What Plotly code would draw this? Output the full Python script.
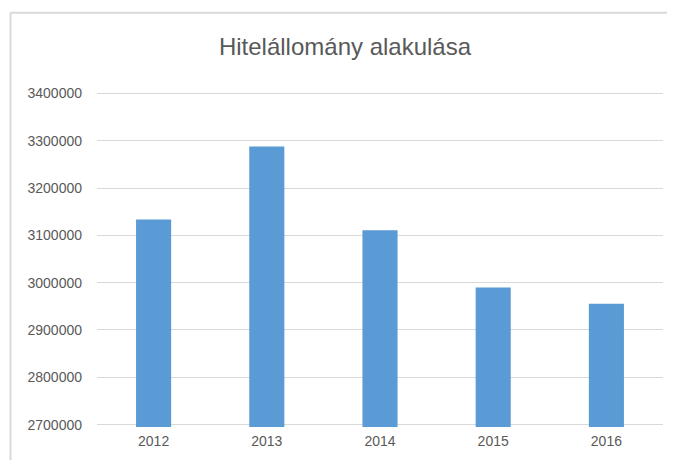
import plotly.graph_objects as go

years = ["2012", "2013", "2014", "2015", "2016"]
values = [3133700, 3287500, 3110500, 2990000, 2955700]
tick_vals = [2700000, 2800000, 2900000, 3000000, 3100000, 3200000, 3300000, 3400000]
tick_text = [str(v) for v in tick_vals]
title = "Hitelállomány alakulása"

font_family = "Liberation Sans"
W, H = 659, 452
L, R, T, B = 89, 4, 83, 33
PW, PH = W - L - R, H - T - B

fig = go.Figure(go.Bar(x=years, y=values, marker=dict(color="#5b9bd5", line=dict(width=0)), width=0.31))

fig.update_layout(
    width=W, height=H,
    margin=dict(l=L, r=R, t=T, b=B),
    paper_bgcolor="white", plot_bgcolor="white",
    showlegend=False,
    title=dict(text=title, x=337 / W, xanchor="center", xref="container",
               y=1 - 39 / H, yanchor="middle", yref="container",
               font=dict(family=font_family, size=24, color="#595959")),
    font=dict(family=font_family, size=14, color="#595959"),
    bargap=0.69,
)
fig.update_yaxes(range=[2695000, 3405000], tickvals=tick_vals, ticktext=tick_text,
                 showgrid=True, gridcolor="#d9d9d9", gridwidth=1, zeroline=False,
                 showline=False, ticks="", ticklabelstandoff=14,
                 tickfont=dict(family=font_family, size=14, color="#595959"))
fig.update_xaxes(showgrid=False, showline=False, ticks="", ticklabelstandoff=4,
                 tickfont=dict(family=font_family, size=14, color="#595959"))
bx = (2.5 - L) / PW
by = (T + PH - 4.7) / PH
fig.add_shape(type="line", xref="paper", yref="paper", x0=bx, x1=bx, y0=by, y1=-B / PH,
              line=dict(color="#d9d9d9", width=2), layer="below")
fig.add_shape(type="line", xref="paper", yref="paper", x0=bx, x1=(W - L) / PW, y0=by, y1=by,
              line=dict(color="#d9d9d9", width=2), layer="below")

fig.write_html("out.html")
